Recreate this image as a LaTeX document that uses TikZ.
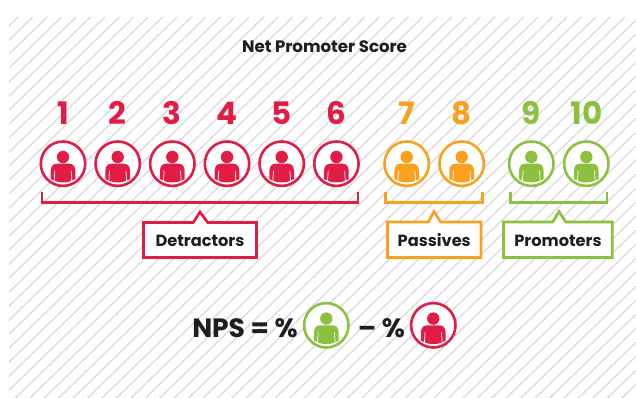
\documentclass[tikz,border=0pt]{standalone}
\usepackage{fontspec}
\setmainfont{Poppins}[BoldFont={Poppins Bold}]
\definecolor{nred}{HTML}{E31C46}
\definecolor{norange}{HTML}{F7A11E}
\definecolor{ngreen}{HTML}{8CC13F}
\definecolor{nink}{HTML}{1E1E20}
\definecolor{nhatch}{HTML}{D8D8D8}
\tikzset{
  hatchline/.style={draw=nhatch,line width=1.2pt},
  facecircle/.style={circle,draw=#1,fill=white,line width=2.6pt,minimum size=44.4pt,inner sep=0pt,outer sep=0pt},
  scoredigit/.style={text=#1,font=\bfseries\fontsize{31}{31}\selectfont,inner sep=0pt,anchor=base},
  bracketline/.style={draw=#1,line width=2.5pt,line join=miter,line cap=butt},
  calloutbox/.style={draw=#1,fill=white,line width=2.7pt,line join=miter},
  calloutlabel/.style={text=nink,font=\bfseries\fontsize{16.2}{16.2}\selectfont,inner sep=0pt,anchor=base},
  formula/.style={text=nink,font=\bfseries\fontsize{26.5}{26.5}\selectfont,inner sep=0pt,anchor=base},
  pics/personicon/.style={code={
    \fill[#1] (0,-6.7) circle (6.2);
    \fill[#1] (-6,0) .. controls (-10,0) and (-12.2,2.5) .. (-12.3,7)
      -- (-12.3,15.5) -- (-9.6,16.6) -- (-8.9,17) .. controls (-4,19.4) and (4,19.4) .. (8.9,17)
      -- (9.6,16.6) -- (12.3,15.5) -- (12.3,7) .. controls (12.2,2.5) and (10,0) .. (6,0) -- cycle;
    \draw[white,line width=0.7pt] (-8.2,7) -- (-8.9,18);
    \draw[white,line width=0.7pt] (8.2,7) -- (8.9,18);
  }}
}
\begin{document}
\begin{tikzpicture}[x=1pt,y=-1pt]
\useasboundingbox (0,0) rectangle (636,398);
\fill[white] (0,0) rectangle (636,398);
\begin{scope}
  \clip (9,17) rectangle (636,398);
  \foreach \k in {0,...,75} {
    \draw[hatchline] ({18.3+14.44*\k},17) -- ({18.3+14.44*\k-400},{17+400*0.97});
  }
\end{scope}
\node[text=nink,font=\bfseries\fontsize{16.6}{16.6}\selectfont,inner sep=0pt,anchor=base] (title) at (324.5,52.5) {Net Promoter Score};

% score circles
\foreach \n/\xx/\cc in {1/63/nred,2/117.7/nred,3/172.3/nred,4/227/nred,5/281.7/nred,6/336.4/nred,7/406.7/norange,8/461.7/norange,9/531.3/ngreen,10/586.3/ngreen} {
  \node[facecircle=\cc] (c\n) at (\xx,163.7) {};
  \pic at (c\n) {personicon=\cc};
  \node[scoredigit=\cc] (d\n) at (\xx,125) {\n};
}

% brackets
\coordinate (dl) at (42,191.7); \coordinate (dr) at (358,191.7);
\coordinate (pl) at (385.7,191.7); \coordinate (pr) at (482.3,191.7);
\coordinate (gl) at (510.7,191.7); \coordinate (gr) at (607,191.7);
\draw[bracketline=nred] (dl) -- (42,202.7) -- (358,202.7) -- (dr);
\draw[bracketline=norange] (pl) -- (385.7,202.7) -- (482.3,202.7) -- (pr);
\draw[bracketline=ngreen] (gl) -- (510.7,202.7) -- (607,202.7) -- (gr);

% callouts
\draw[calloutbox=nred] (143.5,222.5) -- (193.3,222.5) -- (200,212) -- (207.7,222.5) -- (256.5,222.5) -- (256.5,257.5) -- (143.5,257.5) -- cycle;
\node[calloutlabel] (detractors) at (200,246) {Detractors};
\draw[calloutbox=norange] (387.5,222) -- (428.3,222) -- (434,211.5) -- (440.7,222) -- (481,222) -- (481,257.5) -- (387.5,257.5) -- cycle;
\node[calloutlabel] (passives) at (434.2,246) {Passives};
\draw[calloutbox=ngreen] (503.5,222) -- (552.7,222) -- (559,211.5) -- (565.7,222) -- (612.3,222) -- (612.3,257.5) -- (503.5,257.5) -- cycle;
\node[calloutlabel] (promoters) at (558,246) {Promoters};

% formula
\node[formula] (npslabel) at (245,337.7) {NPS = \%};
\node[facecircle=ngreen] (fg) at (326.3,325.3) {};
\pic at (fg) {personicon=ngreen};
\node[formula] (minuslabel) at (381.5,337.7) {– \%};
\node[facecircle=nred] (fr) at (433.3,325.3) {};
\pic at (fr) {personicon=nred};
\end{tikzpicture}
\end{document}
